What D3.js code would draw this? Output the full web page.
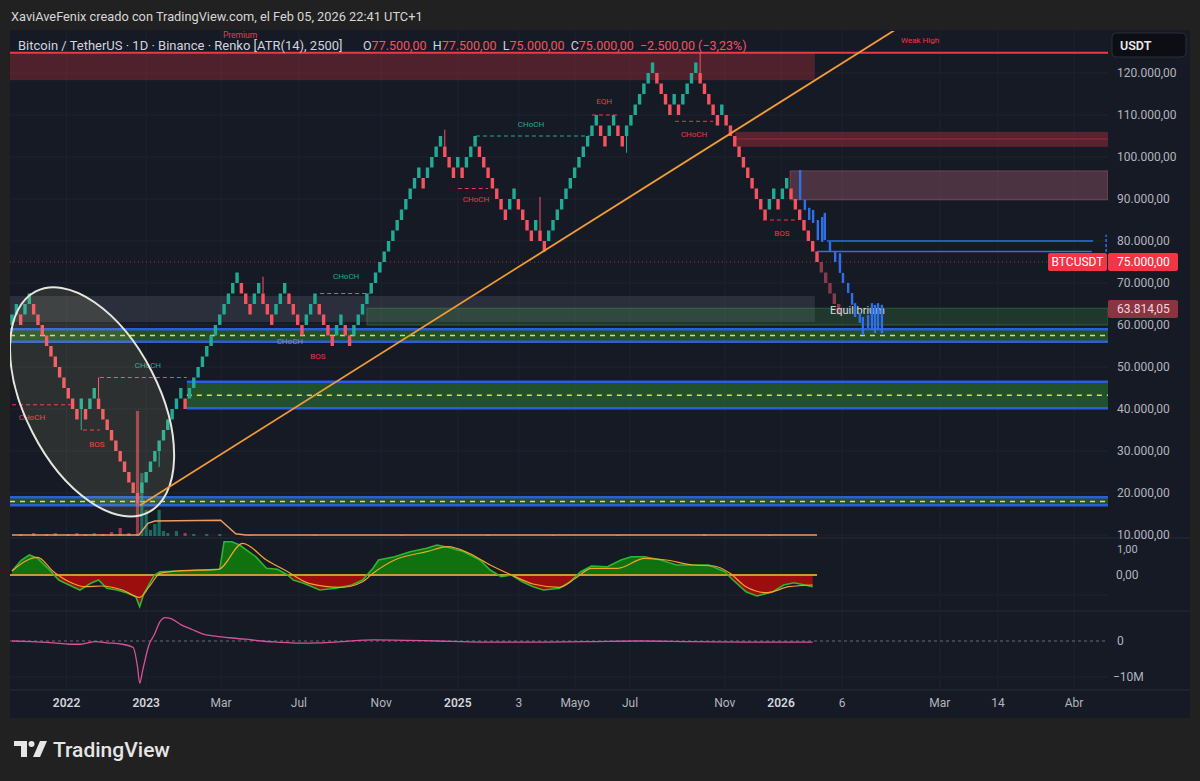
<!DOCTYPE html>
<html><head><meta charset="utf-8">
<script src="https://cdn.jsdelivr.net/npm/d3@7"></script>
<style>
html,body{margin:0;padding:0;background:#212121;}
svg{display:block;font-family:Roboto,"Open Sans",sans-serif;}
text{white-space:pre;}
</style></head><body>
<svg id="chart" width="1200" height="781"></svg>
<script>
// ---------------- DATA ----------------
const brickSize = 2500;
const startLevel = 23;               // level before first brick (box = [level*size, level*size+size])
const brickRuns = [2,-1,2, -11,1,-1,2, -10, 10,-1,12, -3,2,-3,3,-4,3,-4,2,-2,
                   16,-1,4, -3,1,-1,3,-7,2,-4,1,-2, 12,-2,2,-2,7, -4,1,-1,4,-5,1, -10,2,-1,2,-7];
const pendingRuns = [-5];
const wicks = [[16,35000],[20,47500],[34,26200],[58,71500],[100,106500],[122,90500],[142,101000],[159,124800]];
const priceTicks = [120000,110000,100000,90000,80000,70000,60000,50000,40000,30000,20000,10000];
const timeLabels = ['2022','2023','Mar','Jul','Nov','2025','3','Mayo','Jul','Nov','2026','6','Mar','14','Abr'];
const timeTickIdx = [12.6,31.0,48.3,66.3,85.3,103.0,117.1,130.1,142.8,164.7,177.7,191.8,214.4,227.8,245.4];
const yearLabels = ['2022','2023','2025','2026'];
const lastClose = 75000, lastOpen = 77500, lastHigh = 77500, lastLow = 75000;
const markerPrice = 63814.05;
// zones: [fromIdx, toIdx, low, high]
const premiumZone = [-Infinity,185.5,118300,124800];
const weakHigh = 124800;
const supplyZone = [167.1,Infinity,102400,106000,104300];
const supplyZone2 = [179.8,Infinity,89800,96700];
const eqZone = [-Infinity,185.5,60700,66900];
const discountZone = [82.0,Infinity,60000,64000];
const demandZones = [[-Infinity,Infinity,56000,59000,57500],[40.4,Infinity,40200,46500,43300],[-Infinity,Infinity,17100,19000,18000]];
// SMC structure lines: [fromIdx,toIdx,price,kind]
const smcLines = [[0,14.6,41000,'bear'],[16.4,20.3,35000,'bear'],[20.3,40.4,47500,'bull'],[71.2,82.7,67500,'bull'],
  [103.0,110.0,92500,'bear'],[107.2,133.5,105000,'bull'],[134.0,140.0,110000,'bear'],[153.2,162.0,108500,'bear'],[173.5,180.9,85000,'bear']];
const smcLabels = [['CHoCH',4.6,38100,'bear'],['BOS',19.6,31700,'bear'],['CHoCH',31.4,50500,'bull'],['CHoCH',77.2,71700,'bull'],
  ['CHoCH',64.2,56200,'gray'],['BOS',70.7,52600,'bear'],['CHoCH',107.2,90000,'bear'],['CHoCH',119.9,107900,'bull'],
  ['EQH',136.8,113300,'bear'],['CHoCH',157.6,105500,'bear'],['BOS',177.9,81900,'bear']];
// projected blue bars: [idx, high, low]
const blueBars = [[182.1,96900,89800],[183.2,89800,87400],[184.2,87900,85000],[185.1,87400,84300],[186.2,85000,80200],
  [187.2,85700,79800],[187.8,86700,80200],[189.0,79800,77400],[190.2,77400,75000],[191.3,77100,72400],[192.0,72400,70000],
  [193.2,70000,67600],[194.1,67600,64800],[194.8,65200,61900],[195.9,62900,60500],[196.6,61900,57600],[197.8,62400,59300],
  [198.7,65200,58800],[199.4,64800,58100],[200.1,65200,58800],[201.0,64800,58100]];
const blueLines = [[188.3,249.8,80000],[186.0,249.5,77500]];
const blueVertical = [252.8,75000,81500];
const trendline = [[29.6,17100],[204.7,130700]];
const ellipse = {idx:18.5, price:41700};
// volume (overlay) [idx, value]
const volumeBars = [[2,2],[5,3],[8,2],[10,3],[13,2],[15,3],[17,2],[19,3],[21,2],[23,4],[25,8],[27,3],[29,125],[30,63],[31,26],
  [32,6],[33,12],[34,26],[35,5],[36,3],[38,5],[40,3],[42,2],[45,2],[48,2],[55,1],[70,1],[90,1],[110,1],[125,1],[140,1],[160,2],[175,1]];
const volumeMA = [[0,1],[29.3,1],[31.4,12.7],[33,15],[48.2,15.7],[51.7,2.3],[54,1],[186,1]];
// oscillator
const oscLine = [[0,4],[2.2,15],[4,20],[5.9,16.7],[8.3,6.7],[10.8,-5],[13.2,-10],[15.7,-15],[18.2,-8.3],[20,-5],[21.9,-13.3],
  [24.3,-15],[26.8,-18.3],[28.6,-21.7],[29.5,-31.7],[30.5,-18.3],[32.9,0],[34.2,3.3],[39.1,4],[44,5],[48,5.7],[49,33.3],
  [50.8,33.3],[52.6,30],[56.3,18.3],[58.8,6.7],[61.3,5.7],[63.7,0],[65,-5],[67.4,-8.3],[71.1,-15],[74.8,-13.3],[78.5,-10],
  [81,-5],[83.4,6.7],[84.7,15],[88.4,18.3],[92,23.3],[95.8,26.7],[98.2,30],[100.7,27.7],[104.4,23.3],[108.1,15],[110.5,5],
  [113,-1.7],[115.4,0],[117.9,-6.7],[120.4,-11.7],[122.8,-15],[126.5,-13.3],[129,-6.7],[131.4,3.3],[133.9,9],[137.6,8.3],
  [140.7,15],[143.1,18.3],[146.2,18.3],[149.9,15],[153.6,10],[157.3,10],[161,10],[164.7,3.3],[166.6,-5],[169.6,-16.7],
  [172.1,-21],[175.8,-16.7],[178.3,-10],[180.7,-7.7],[183.2,-10],[185,-11.7]];
const signalLine = [[0,4],[5.9,17.7],[9.6,3.3],[13.2,-6.7],[16.9,-11.7],[20.6,-11],[25.5,-15],[29.5,-22.3],[31.7,-11.7],
  [34.2,1.7],[37.9,4],[47.7,5.7],[53.3,31.7],[58.8,15],[63.7,3.3],[68.6,-8.3],[76,-12.3],[81,-6.7],[83.4,1.7],[88.4,15],
  [95.8,23.3],[100.7,28.3],[105.6,21.7],[110.5,10],[115.4,0],[120.4,-9],[126.5,-12.3],[130.2,-3.3],[133.9,6.7],[140,6.7],
  [146.2,16.7],[151.1,15],[157.3,10],[162.2,9],[165.9,1.7],[169.6,-11.7],[174.5,-17.7],[179.5,-11.7],[185,-10]];
// third pane (millions)
const pane3Line = [[0,0],[4.6,-0.2],[9.6,-0.5],[13.2,-0.9],[15.7,-0.9],[19.4,-0.2],[21.9,-0.5],[25.5,-0.9],[28,-1.8],
  [29,-7.2],[29.5,-11.7],[30.2,-8.1],[31.7,-0.9],[32.9,1.8],[34.2,5.4],[35.4,6.5],[36.6,6.3],[39.1,4.5],[41.6,3.2],[44,2],
  [46.5,1.4],[50.2,0.9],[53.9,0.5],[57.6,0],[61.3,-0.3],[66.2,-0.6],[71.1,-0.5],[76,-0.2],[83.4,0.3],[90.8,0.2],[98.2,0],
  [108.1,-0.3],[120.4,-0.3],[132.7,-0.2],[145,0],[157.3,-0.2],[169.6,-0.3],[185,-0.3]];

// ---------------- LAYOUT ----------------
const W=1200,H=781, plotLeft=10, plotRight=1108, mainTop=31, mainBottom=537;
const svg=d3.select('#chart');
const x=d3.scaleLinear().domain([0,186]).range([12,817]);
const y=d3.scaleLinear().domain([10000,120000]).range([535,73]);
const yOsc=d3.scaleLinear().domain([-35,35]).range([610,540]);
const yP3=d3.scaleLinear().domain([-10,0]).range([677,641]);
const yVol=d3.scaleLinear().domain([0,125]).range([536,411]);
const xr=i=> i===Infinity?plotRight:(i===-Infinity?plotLeft:x(i));
const fmt=d3.formatLocale({decimal:',',thousands:'.',grouping:[3],currency:['','']}).format(',.2f');
const GREEN='#22ab94', RED='#f7525f';

svg.append('rect').attr('width',W).attr('height',H).attr('fill','#212121');
svg.append('rect').attr('x',10).attr('y',30).attr('width',1180).attr('height',688).attr('fill','#161a25');

const defs=svg.append('defs');
defs.append('clipPath').attr('id','cMain').append('rect').attr('x',plotLeft).attr('y',mainTop).attr('width',plotRight-plotLeft).attr('height',mainBottom-mainTop);
defs.append('clipPath').attr('id','cUp').append('rect').attr('x',plotLeft).attr('y',538).attr('width',plotRight-plotLeft).attr('height',yOsc(0)-538);
defs.append('clipPath').attr('id','cDn').append('rect').attr('x',plotLeft).attr('y',yOsc(0)).attr('width',plotRight-plotLeft).attr('height',611-yOsc(0));

// grid
const grid=svg.append('g').attr('stroke','#1e2230').attr('stroke-width',1);
priceTicks.forEach(p=>grid.append('line').attr('x1',plotLeft).attr('x2',plotRight).attr('y1',y(p)).attr('y2',y(p)));
[yOsc(-20),yP3(-10)].forEach(v=>grid.append('line').attr('x1',plotLeft).attr('x2',plotRight).attr('y1',v).attr('y2',v));
timeTickIdx.forEach(t=>grid.append('line').attr('x1',x(t)).attr('x2',x(t)).attr('y1',31).attr('y2',690));
// pane separators
[538,611,690].forEach(v=>svg.append('line').attr('x1',10).attr('x2',1190).attr('y1',v).attr('y2',v).attr('stroke','#262a36'));

const main=svg.append('g').attr('clip-path','url(#cMain)');
function zrect(z,fill,stroke){
  return main.append('rect').attr('x',xr(z[0])).attr('width',xr(z[1])-xr(z[0]))
   .attr('y',y(z[3])).attr('height',y(z[2])-y(z[3])).attr('fill',fill).attr('stroke',stroke||'none');
}
zrect(premiumZone,'rgba(242,54,69,0.26)');
zrect(supplyZone,'rgba(242,54,69,0.3)');
main.append('line').attr('x1',xr(supplyZone[0])).attr('x2',plotRight).attr('y1',y(supplyZone[4])).attr('y2',y(supplyZone[4])).attr('stroke','rgba(242,54,69,0.45)');
zrect(supplyZone2,'rgba(214,120,140,0.28)','rgba(214,120,140,0.35)');
zrect(eqZone,'rgba(150,155,170,0.17)');
zrect(discountZone,'rgba(76,175,80,0.2)','rgba(76,175,80,0.35)');
demandZones.forEach(z=>{
  zrect(z,'rgba(46,125,50,0.55)');
  [z[2],z[3]].forEach(p=>main.append('line').attr('x1',xr(z[0])).attr('x2',xr(z[1])).attr('y1',y(p)).attr('y2',y(p)).attr('stroke','#2b5fd9').attr('stroke-width',2.5));
  main.append('line').attr('x1',xr(z[0])).attr('x2',xr(z[1])).attr('y1',y(z[4])).attr('y2',y(z[4])).attr('stroke','#d4e157').attr('stroke-width',1.5).attr('stroke-dasharray','5,5');
});
// weak high line
main.append('line').attr('x1',plotLeft).attr('x2',plotRight).attr('y1',y(weakHigh)).attr('y2',y(weakHigh)).attr('stroke','#f23645').attr('stroke-width',2);
// last price dotted line
main.append('line').attr('x1',plotLeft).attr('x2',plotRight).attr('y1',y(lastClose)).attr('y2',y(lastClose)).attr('stroke','#f23645').attr('stroke-opacity',0.7).attr('stroke-dasharray','1,3');

// bricks from runs
const bricks=[]; let lvl=startLevel;
brickRuns.forEach(r=>{const d=Math.sign(r);for(let k=0;k<Math.abs(r);k++){lvl+=d;bricks.push({i:bricks.length,lvl,up:d>0});}});
const pending=[]; pendingRuns.forEach(r=>{const d=Math.sign(r);for(let k=0;k<Math.abs(r);k++){lvl+=d;pending.push({i:bricks.length+pending.length,lvl,up:d>0});}});
// volume overlay
main.selectAll('.vol').data(volumeBars).join('rect').attr('x',d=>x(d[0])-1.6).attr('width',3.2)
  .attr('y',d=>yVol(d[1])).attr('height',d=>yVol(0)-yVol(d[1]))
  .attr('fill',d=>bricks[d[0]]&&bricks[d[0]].up?'rgba(34,171,148,0.55)':'rgba(247,82,95,0.6)');
main.append('path').datum(volumeMA).attr('fill','none').attr('stroke','#ef9a62').attr('stroke-width',1.5)
  .attr('d',d3.line().x(d=>x(d[0])).y(d=>yVol(d[1])));

// wicks
wicks.forEach(w=>{const b=bricks[w[0]];const lo=b.lvl*brickSize,hi=lo+brickSize;
  main.append('line').attr('x1',x(w[0])).attr('x2',x(w[0])).attr('y1',y(w[1]>hi?hi:lo)).attr('y2',y(w[1]))
   .attr('stroke',b.up?GREEN:RED).attr('stroke-width',1);});
// bricks
const bw=3.4;
main.selectAll('.brick').data(bricks).join('rect').attr('x',d=>x(d.i)-bw/2).attr('width',bw)
  .attr('y',d=>y((d.lvl+1)*brickSize)).attr('height',d=>y(d.lvl*brickSize)-y((d.lvl+1)*brickSize))
  .attr('fill',d=>d.up?GREEN:RED);
main.selectAll('.pend').data(pending).join('rect').attr('x',d=>x(d.i)-bw/2).attr('width',bw)
  .attr('y',d=>y((d.lvl+1)*brickSize)).attr('height',d=>y(d.lvl*brickSize)-y((d.lvl+1)*brickSize))
  .attr('fill','#8a3a4a');

// SMC lines and labels
const kc={bull:GREEN,bear:'#f23645',gray:'#8e89a6'};
smcLines.forEach(l=>main.append('line').attr('x1',x(l[0])).attr('x2',x(l[1])).attr('y1',y(l[2])).attr('y2',y(l[2]))
  .attr('stroke',kc[l[3]]).attr('stroke-width',1).attr('stroke-dasharray','4,3'));
smcLabels.forEach(l=>main.append('text').attr('x',x(l[1])).attr('y',y(l[2])).attr('dy','0.35em').attr('text-anchor','middle')
  .attr('font-size',8).attr('fill',kc[l[3]]).text(l[0]));
main.append('text').attr('x',830).attr('y',y(63600)).attr('dy','0.35em').attr('font-size',11).attr('fill','#d8dae0').text('Equilibrium');
main.append('text').attr('x',x(209.8)).attr('y',43).attr('text-anchor','middle').attr('font-size',8).attr('fill','#f23645').text('Weak High');

// blue projection
blueLines.forEach(l=>main.append('line').attr('x1',x(l[0])).attr('x2',x(l[1])).attr('y1',y(l[2])).attr('y2',y(l[2])).attr('stroke','#2f6fe8').attr('stroke-width',1.3));
main.append('line').attr('x1',x(blueVertical[0])).attr('x2',x(blueVertical[0])).attr('y1',y(blueVertical[1])).attr('y2',y(blueVertical[2]))
  .attr('stroke','#2f6fe8').attr('stroke-width',1.5).attr('stroke-dasharray','3,2');
main.selectAll('.bb').data(blueBars).join('rect').attr('x',d=>x(d[0])-1.2).attr('width',2.4)
  .attr('y',d=>y(d[1])).attr('height',d=>y(d[2])-y(d[1])).attr('fill','#2f6fe8');

// ellipse
{const cx=x(ellipse.idx),cy=y(ellipse.price);
 main.append('ellipse').attr('cx',cx).attr('cy',cy).attr('rx',124).attr('ry',67).attr('transform',`rotate(63,${cx},${cy})`)
  .attr('fill','rgba(215,210,140,0.12)').attr('stroke','#e6e6dc').attr('stroke-width',2);}
// trendline
{const [p,q]=trendline;const s=(q[1]-p[1])/(q[0]-p[0]);const i2=x.invert(plotRight);
 main.append('line').attr('x1',x(p[0])).attr('y1',y(p[1])).attr('x2',x(i2)).attr('y2',y(p[1]+s*(i2-p[0])))
  .attr('stroke','#f39c35').attr('stroke-width',1.8);}

// oscillator pane
const area=d3.area().x(d=>x(d[0])).y0(yOsc(0)).y1(d=>yOsc(d[1]));
svg.append('path').datum(oscLine).attr('clip-path','url(#cUp)').attr('fill','#0f720f').attr('d',area);
svg.append('path').datum(oscLine).attr('clip-path','url(#cDn)').attr('fill','#9c0d0d').attr('d',area);
svg.append('line').attr('x1',x(0)-2).attr('x2',x(186)).attr('y1',yOsc(0)).attr('y2',yOsc(0)).attr('stroke','#c99a2e').attr('stroke-width',2);
svg.append('path').datum(oscLine).attr('fill','none').attr('stroke','#2fb52f').attr('stroke-width',1.6).attr('d',d3.line().x(d=>x(d[0])).y(d=>yOsc(d[1])));
svg.append('path').datum(signalLine).attr('fill','none').attr('stroke','#f4a12e').attr('stroke-width',1.2).attr('d',d3.line().curve(d3.curveMonotoneX).x(d=>x(d[0])).y(d=>yOsc(d[1])));

// pane 3
svg.append('line').attr('x1',plotLeft).attr('x2',plotRight).attr('y1',yP3(0)).attr('y2',yP3(0)).attr('stroke','#6a6d78').attr('stroke-dasharray','3,3');
svg.append('path').datum(pane3Line).attr('fill','none').attr('stroke','#d9519b').attr('stroke-width',1.3).attr('d',d3.line().curve(d3.curveMonotoneX).x(d=>x(d[0])).y(d=>yP3(d[1])));

// header texts
svg.append('text').attr('x',11).attr('y',21).attr('font-size',12.8).attr('fill','#d6d6d6').text('XaviAveFenix creado con TradingView.com, el Feb 05, 2026 22:41 UTC+1');
svg.append('text').attr('x',x(52.7)).attr('y',38).attr('text-anchor','middle').attr('font-size',8.5).attr('fill','#f23645').text('Premium');
const hdr=svg.append('text').attr('x',18).attr('y',50).attr('font-size',13).attr('fill','#d1d4dc');
hdr.append('tspan').text('Bitcoin / TetherUS · 1D · Binance · Renko [ATR(14), 2500]');
const pct=(lastClose-lastOpen)/lastOpen*100;
const ohlc=svg.append('text').attr('x',363).attr('y',50).attr('font-size',12.5).attr('fill','#d1d4dc');
[['O',fmt(lastOpen)],['  H',fmt(lastHigh)],['  L',fmt(lastLow)],['  C',fmt(lastClose)]].forEach(p=>{
  ohlc.append('tspan').text(p[0]); ohlc.append('tspan').attr('fill','#f7525f').text(p[1]);});
ohlc.append('tspan').attr('fill','#f7525f').text('  −'+fmt(lastOpen-lastClose)+' (−'+d3.format('.2f')(-pct).replace('.',',')+'%)');

// right axis
svg.append('rect').attr('x',1112).attr('y',33).attr('width',74).attr('height',24).attr('rx',4).attr('fill','#0c0e13').attr('stroke','#2a2e39');
svg.append('text').attr('x',1120).attr('y',50).attr('font-size',12.5).attr('font-weight',600).attr('fill','#e8e8e8').text('USDT');
priceTicks.forEach(p=>svg.append('text').attr('x',1117).attr('y',y(p)).attr('dy','0.35em').attr('font-size',12).attr('fill','#b2b5be').text(fmt(p)));
svg.append('text').attr('x',1117).attr('y',549).attr('dy','0.35em').attr('font-size',11).attr('fill','#b2b5be').text('1,00');
svg.append('text').attr('x',1116).attr('y',yOsc(0)).attr('dy','0.35em').attr('font-size',12).attr('fill','#b2b5be').text('0,00');
svg.append('text').attr('x',1117).attr('y',yP3(0)).attr('dy','0.35em').attr('font-size',12).attr('fill','#b2b5be').text('0');
svg.append('text').attr('x',1113).attr('y',yP3(-10)).attr('dy','0.35em').attr('font-size',12).attr('fill','#b2b5be').text('−10M');
// last price badges
svg.append('rect').attr('x',1048).attr('y',y(lastClose)-9).attr('width',59).attr('height',18).attr('rx',2).attr('fill','#f23645');
svg.append('text').attr('x',1077.5).attr('y',y(lastClose)).attr('dy','0.36em').attr('text-anchor','middle').attr('font-size',12).attr('fill','#fff').text('BTCUSDT');
svg.append('rect').attr('x',1108).attr('y',y(lastClose)-9).attr('width',70).attr('height',18).attr('rx',2).attr('fill','#f23645');
svg.append('text').attr('x',1117).attr('y',y(lastClose)).attr('dy','0.36em').attr('font-size',12).attr('fill','#fff').text(fmt(lastClose));
svg.append('rect').attr('x',1108).attr('y',y(markerPrice)-9).attr('width',70).attr('height',18).attr('rx',2).attr('fill','#8a3442');
svg.append('text').attr('x',1117).attr('y',y(markerPrice)).attr('dy','0.36em').attr('font-size',12).attr('fill','#f5d5da').text(fmt(markerPrice));

// time axis
timeLabels.forEach((t,k)=>svg.append('text').attr('x',x(timeTickIdx[k])).attr('y',707).attr('text-anchor','middle')
  .attr('font-size',12).attr('font-weight',yearLabels.includes(t)?600:400).attr('fill',yearLabels.includes(t)?'#d1d4dc':'#b2b5be').text(t));

// TradingView logo
const lg=svg.append('g').attr('fill','#e6e6e6');
lg.append('path').attr('d','M14,741 H27 V757 H21 V746 H14 Z');
lg.append('circle').attr('cx',31.5).attr('cy',744).attr('r',3);
lg.append('path').attr('d','M40,741 H47 L40,757 H33 Z');
svg.append('text').attr('x',53).attr('y',757).attr('font-size',21).attr('font-weight',500).attr('fill','#e6e6e6').text('TradingView');
</script>
</body></html>
